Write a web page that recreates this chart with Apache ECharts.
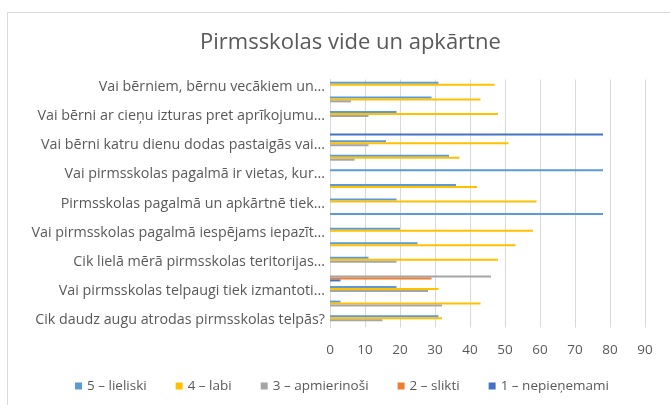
<!DOCTYPE html>
<html>
<head>
    <meta charset="utf-8">
    <script src="https://cdn.jsdelivr.net/npm/echarts@6/dist/echarts.min.js"></script>
    <style type="text/css">
        html, body { width: 100%; height: 100%; margin: 0; }
        #chart { width: 670px; height: 405px; }
    </style>
</head>
<body>
<div id="chart"></div>
<script type="text/javascript">
    // jautājumi (no augšas uz leju), katrs otrais paraksts netiek rādīts
    var categories = [
        'Vai bērniem, bērnu vecākiem un...', '',
        'Vai bērni ar cieņu izturas pret aprīkojumu...', '',
        'Vai bērni katru dienu dodas pastaigās vai...', '',
        'Vai pirmsskolas pagalmā ir vietas, kur...', '',
        'Pirmsskolas pagalmā un apkārtnē tiek...', '',
        'Vai pirmsskolas pagalmā iespējams iepazīt...', '',
        'Cik lielā mērā pirmsskolas teritorijas...', '',
        'Vai pirmsskolas telpaugi tiek izmantoti...', '',
        'Cik daudz augu atrodas pirmsskolas telpās?'
    ];
    var seriesNames = ['5 – lieliski', '4 – labi', '3 – apmierinoši', '2 – slikti', '1 – nepieņemami'];
    var s5 = [31, 29, 19, 0, 16, 34, 78, 36, 19, 78, 20, 25, 11, 0, 19, 3, 31];
    var s4 = [47, 43, 48, 0, 51, 37, 0, 42, 59, 0, 58, 53, 48, 0, 31, 43, 32];
    var s3 = [0, 6, 11, 0, 11, 7, 0, 0, 0, 0, 0, 0, 19, 46, 28, 32, 15];
    var s2 = [0, 0, 0, 0, 0, 0, 0, 0, 0, 0, 0, 0, 0, 29, 0, 0, 0];
    var s1 = [0, 0, 0, 78, 0, 0, 0, 0, 0, 0, 0, 0, 0, 3, 0, 0, 0];
    var xTicks = [0, 90, 10]; // min, max, solis

    var colors = ['#5B9BD5', '#FFC000', '#A5A5A5', '#ED7D31', '#4472C4'];
    var values = [s5, s4, s3, s2, s1];
    var font = 'Open Sans';

    var series = values.map(function (v, i) {
        return {
            name: seriesNames[i],
            type: 'bar',
            data: v,
            barWidth: 2,
            barGap: '0%',
            itemStyle: { color: colors[i] }
        };
    });

    var option = {
        animation: false,
        color: colors,
        graphic: [{
            type: 'rect',
            shape: { x: 7.5, y: 12.5, width: 700, height: 420 },
            style: { fill: 'none', stroke: '#D9D9D9', lineWidth: 1 },
            silent: true
        }],
        title: {
            text: 'Pirmsskolas vide un apkārtne',
            left: 195,
            top: 27,
            textStyle: { color: '#595959', fontSize: 22, fontWeight: 'normal', fontFamily: font }
        },
        legend: {
            data: seriesNames,
            left: 70,
            top: 374,
            icon: 'rect',
            itemWidth: 7,
            itemHeight: 7,
            itemGap: 29,
            textStyle: { color: '#595959', fontSize: 13.5, fontFamily: font }
        },
        grid: { left: 330, right: 25, top: 79.5, bottom: 77.5 },
        xAxis: {
            type: 'value',
            min: xTicks[0],
            max: xTicks[1],
            interval: xTicks[2],
            axisLine: { show: false },
            axisTick: { show: false },
            axisLabel: { color: '#595959', fontSize: 13.5, fontFamily: font, margin: 16 },
            splitLine: { lineStyle: { color: '#D9D9D9', width: 1 } }
        },
        yAxis: {
            type: 'category',
            inverse: true,
            data: categories,
            axisLine: { lineStyle: { color: '#D9D9D9' } },
            axisTick: { show: false },
            axisLabel: { interval: 0, color: '#595959', fontSize: 14.3, fontFamily: font, margin: 5 }
        },
        series: series
    };

    var myChart = echarts.init(document.getElementById('chart'));
    myChart.setOption(option);
</script>
</body>
</html>
